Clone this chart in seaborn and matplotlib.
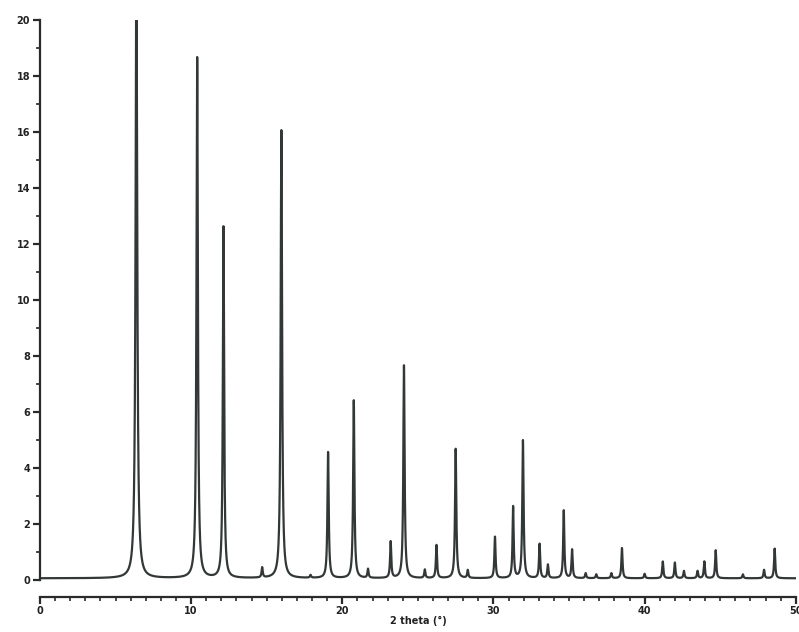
import numpy as np
import pandas as pd
import matplotlib
matplotlib.use('Agg')
import matplotlib.pyplot as plt
from matplotlib.ticker import MultipleLocator
import seaborn as sns

peak_pos = [6.38, 10.40, 12.14, 14.70, 15.97, 17.90, 19.06, 20.76, 21.70, 23.20,
            24.08, 25.46, 26.23, 27.50, 28.30, 30.10, 31.30, 31.95, 33.05, 33.60,
            34.65, 35.20, 36.10, 36.80, 37.80, 38.50, 40.00, 41.20, 42.00, 42.60,
            43.50, 43.95, 44.70, 46.50, 47.90, 48.60]
peak_height = [22.0, 18.6, 12.55, 0.36, 16.0, 0.10, 4.50, 6.35, 0.32, 1.30,
               7.60, 0.30, 1.18, 4.62, 0.28, 1.48, 2.55, 4.92, 1.22, 0.48,
               2.42, 1.02, 0.18, 0.14, 0.18, 1.08, 0.16, 0.60, 0.56, 0.26,
               0.26, 0.60, 1.00, 0.14, 0.30, 1.06]
peak_fwhm = [0.13, 0.11, 0.10, 0.09, 0.11, 0.09, 0.10, 0.10, 0.09, 0.09,
             0.10, 0.09, 0.09, 0.10, 0.09, 0.09, 0.09, 0.10, 0.09, 0.09,
             0.09, 0.09, 0.09, 0.09, 0.09, 0.09, 0.09, 0.09, 0.09, 0.09,
             0.09, 0.09, 0.09, 0.09, 0.09, 0.09]
baseline = 0.06

# perfil lorentziano a partir de los picos
two_theta = np.linspace(0, 50, 20001)
intensity = np.full_like(two_theta, baseline)
for p, h, w in zip(peak_pos, peak_height, peak_fwhm):
    intensity += h / (1 + (2 * (two_theta - p) / w) ** 2)

df = pd.DataFrame({'2theta': two_theta, 'I': intensity})

sns.set_style('ticks')
fig = plt.figure(figsize=(7.99, 6.32), dpi=100)
ax = fig.add_axes([0.050, 0.0823, 0.946, 0.886])

sns.lineplot(data=df, x='2theta', y='I', color='#323838', linewidth=1.6, ax=ax)

ax.set_xlim(0, 50)
ax.set_ylim(0, 20)
ax.xaxis.set_major_locator(MultipleLocator(10))
ax.xaxis.set_minor_locator(MultipleLocator(1))
ax.yaxis.set_major_locator(MultipleLocator(2))
ax.yaxis.set_minor_locator(MultipleLocator(1))

sns.despine(ax=ax)
ax.spines['bottom'].set_position(('outward', 12))
for s in ['left', 'bottom']:
    ax.spines[s].set_linewidth(1.6)
    ax.spines[s].set_color('#2a2a2a')

ax.tick_params(which='major', length=5, width=1.6, color='#2a2a2a', labelsize=7, pad=2)
ax.tick_params(which='minor', length=3, width=1.2, color='#2a2a2a')
for lab in ax.get_xticklabels() + ax.get_yticklabels():
    lab.set_fontweight('bold')
    lab.set_color('#222222')

ax.set_xlabel('2 theta (°)', fontsize=7, fontweight='bold', color='#222222', labelpad=0)
ax.set_ylabel('')

plt.savefig('out.png', dpi=100)
